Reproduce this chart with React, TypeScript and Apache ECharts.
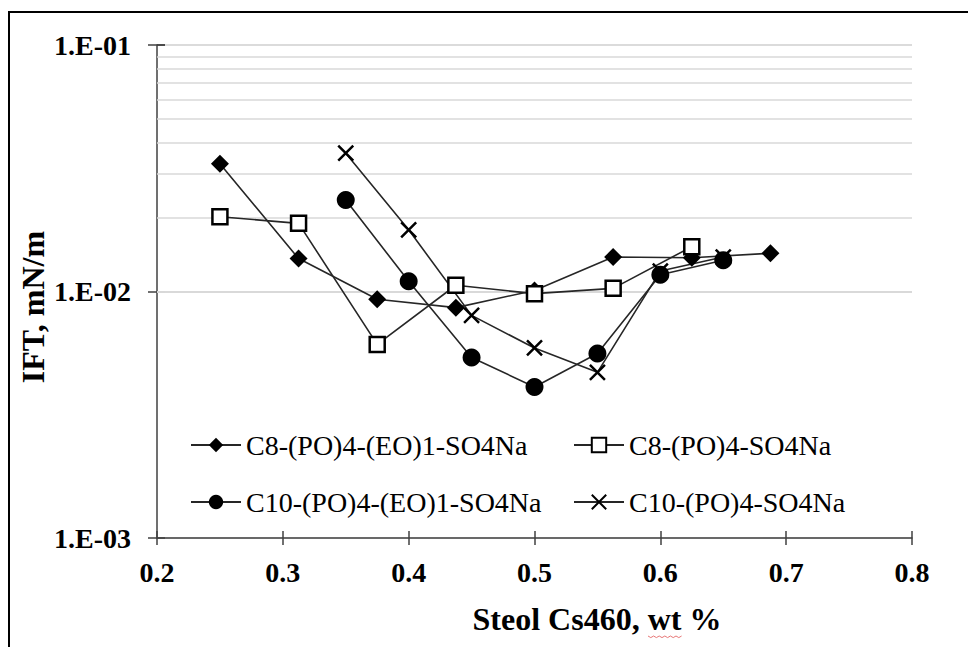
import React, { useEffect, useRef } from "react";
import * as echarts from "echarts";

// Surfactant concentration (wt %) for each formulation
const xC8EO = [0.25, 0.3125, 0.375, 0.4375, 0.5, 0.5625, 0.625, 0.6875];
const yC8EO = [0.033, 0.0136, 0.0093, 0.0086, 0.0101, 0.0138, 0.0137, 0.0143];

const xC8 = [0.25, 0.3125, 0.375, 0.4375, 0.5, 0.5625, 0.625];
const yC8 = [0.0201, 0.0189, 0.0061, 0.0106, 0.0098, 0.0103, 0.0152];

const xC10EO = [0.35, 0.4, 0.45, 0.5, 0.55, 0.6, 0.65];
const yC10EO = [0.0235, 0.011, 0.0054, 0.0041, 0.0056, 0.0117, 0.0134];

const xC10 = [0.35, 0.4, 0.45, 0.5, 0.55, 0.6, 0.65];
const yC10 = [0.0364, 0.0178, 0.008, 0.0059, 0.0047, 0.0121, 0.0138];

const seriesNames = [
  "C8-(PO)4-(EO)1-SO4Na",
  "C8-(PO)4-SO4Na",
  "C10-(PO)4-(EO)1-SO4Na",
  "C10-(PO)4-SO4Na",
];

// Minor log grid lines (2..9 within each decade)
const minorGrid = [
  0.002, 0.003, 0.004, 0.005, 0.006, 0.007, 0.008, 0.009,
  0.02, 0.03, 0.04, 0.05, 0.06, 0.07, 0.08, 0.09,
];

const xAxisTitle = "Steol Cs460, wt %";
const yAxisTitle = "IFT, mN/m";

const FONT = "Liberation Serif";
const LINE = "#262626";
const GRID = "#d9d9d9";
const AXIS = "#404040";

const zip = (xs: number[], ys: number[]) => xs.map((x, i) => [x, ys[i]]);

const crossSymbol = "path://M0,0L10,10M10,0L0,10";

// Spell-check wave under "wt" in the axis title
const wavePoints = (() => {
  const pts: number[][] = [];
  for (let i = 0; i <= 12; i++) pts.push([648 + i * 2.8, 636 + (i % 2 === 0 ? 0 : 1.6)]);
  return pts;
})();

export default function App() {
  const ref = useRef<HTMLDivElement>(null);

  useEffect(() => {
    if (!ref.current) return;
    const chart = echarts.init(ref.current, undefined, { renderer: "svg" });

    const baseSeries = {
      type: "line",
      xAxisIndex: 0,
      yAxisIndex: 0,
      z: 3,
      lineStyle: { color: LINE, width: 1.6 },
      showSymbol: true,
    };

    const logLabel = (v: number) => {
      const e = Math.round(Math.log10(v));
      const abs = Math.abs(e);
      return `1.E${e < 0 ? "-" : "+"}${abs < 10 ? "0" + abs : abs}`;
    };

    const legendCommon = {
      orient: "horizontal",
      padding: 0,
      itemWidth: 50,
      itemHeight: 18,
      itemGap: 0,
      selectedMode: false,
      textStyle: {
        fontFamily: FONT,
        fontSize: 28,
        color: "#000",
        lineHeight: 28,
      },
    };

    const option: any = {
      animation: false,
      backgroundColor: "#fff",
      textStyle: { fontFamily: FONT },
      grid: { left: 157, right: 56, top: 45, bottom: 109, containLabel: false },
      xAxis: [
        {
          type: "value",
          position: "bottom",
          min: 0.2,
          max: 0.8,
          interval: 0.1,
          axisLine: { show: true, lineStyle: { color: AXIS, width: 1.5 } },
          axisTick: { show: true, inside: false, length: 7, lineStyle: { color: AXIS, width: 1.5 } },
          axisLabel: {
            margin: 20,
            fontFamily: FONT,
            fontSize: 28,
            fontWeight: "bold",
            color: "#000",
            formatter: (v: number) => v.toFixed(1),
          },
          splitLine: { show: false },
        },
        {
          type: "value",
          position: "bottom",
          min: 0.2,
          max: 0.8,
          interval: 0.1,
          axisLine: { show: false },
          axisTick: { show: true, inside: true, length: 7, lineStyle: { color: AXIS, width: 1.5 } },
          axisLabel: { show: false },
          splitLine: { show: false },
        },
      ],
      yAxis: [
        {
          type: "log",
          logBase: 10,
          position: "left",
          min: 0.001,
          max: 0.1,
          axisLine: { show: true, lineStyle: { color: AXIS, width: 1.5 } },
          axisTick: { show: true, inside: false, length: 9, lineStyle: { color: AXIS, width: 1.5 } },
          axisLabel: {
            margin: 26,
            fontFamily: FONT,
            fontSize: 28,
            fontWeight: "bold",
            color: "#000",
            formatter: logLabel,
          },
          splitLine: { show: true, lineStyle: { color: GRID, width: 1.5 } },
          minorTick: { show: false },
        },
        {
          type: "log",
          logBase: 10,
          position: "left",
          min: 0.001,
          max: 0.1,
          axisLine: { show: false },
          axisTick: { show: true, inside: true, length: 8, lineStyle: { color: AXIS, width: 1.5 } },
          axisLabel: { show: false },
          splitLine: { show: false },
        },
      ],
      legend: [
        { ...legendCommon, left: 190, top: 431, data: [seriesNames[0]] },
        { ...legendCommon, left: 573, top: 431, data: [seriesNames[1]] },
        { ...legendCommon, left: 190, top: 488, data: [seriesNames[2]] },
        { ...legendCommon, left: 573, top: 488, data: [seriesNames[3]] },
      ],
      series: [
        {
          ...baseSeries,
          name: seriesNames[0],
          data: zip(xC8EO, yC8EO),
          symbol: "diamond",
          symbolSize: 18,
          itemStyle: { color: "#000", borderWidth: 0 },
          markLine: {
            silent: true,
            z: 1,
            symbol: "none",
            label: { show: false },
            lineStyle: { color: GRID, width: 1.5, type: "solid" },
            emphasis: { disabled: true },
            data: minorGrid.map((v) => ({ yAxis: v })),
          },
        },
        {
          ...baseSeries,
          name: seriesNames[1],
          data: zip(xC8, yC8),
          symbol: "rect",
          symbolSize: 15,
          itemStyle: { color: "#fff", borderColor: "#000", borderWidth: 2.5 },
        },
        {
          ...baseSeries,
          name: seriesNames[2],
          data: zip(xC10EO, yC10EO),
          symbol: "circle",
          symbolSize: 18,
          itemStyle: { color: "#000", borderWidth: 0 },
        },
        {
          ...baseSeries,
          name: seriesNames[3],
          data: zip(xC10, yC10),
          symbol: crossSymbol,
          symbolSize: 15,
          itemStyle: { color: "rgba(0,0,0,0)", borderColor: "#000", borderWidth: 2.5 },
        },
      ],
      graphic: [
        {
          type: "rect",
          silent: true,
          z: 100,
          shape: { x: 9, y: 12, width: 1100, height: 800 },
          style: { fill: "none", stroke: "#000", lineWidth: 2 },
        },
        {
          type: "text",
          silent: true,
          x: 597,
          y: 619,
          style: {
            text: xAxisTitle,
            fontFamily: FONT,
            fontSize: 32,
            fontWeight: "bold",
            fill: "#000",
            textAlign: "center",
            textVerticalAlign: "middle",
          },
        },
        {
          type: "polyline",
          silent: true,
          shape: { points: wavePoints },
          style: { stroke: "#e87878", lineWidth: 1, fill: "none" },
        },
        {
          type: "text",
          silent: true,
          x: 33,
          y: 307,
          rotation: Math.PI / 2,
          style: {
            text: yAxisTitle,
            fontFamily: FONT,
            fontSize: 32,
            fontWeight: "bold",
            fill: "#000",
            textAlign: "center",
            textVerticalAlign: "middle",
          },
        },
      ],
    };

    chart.setOption(option);
    return () => chart.dispose();
  }, []);

  return <div ref={ref} style={{ width: 968, height: 647, position: "absolute", left: 0, top: 0 }} />;
}
